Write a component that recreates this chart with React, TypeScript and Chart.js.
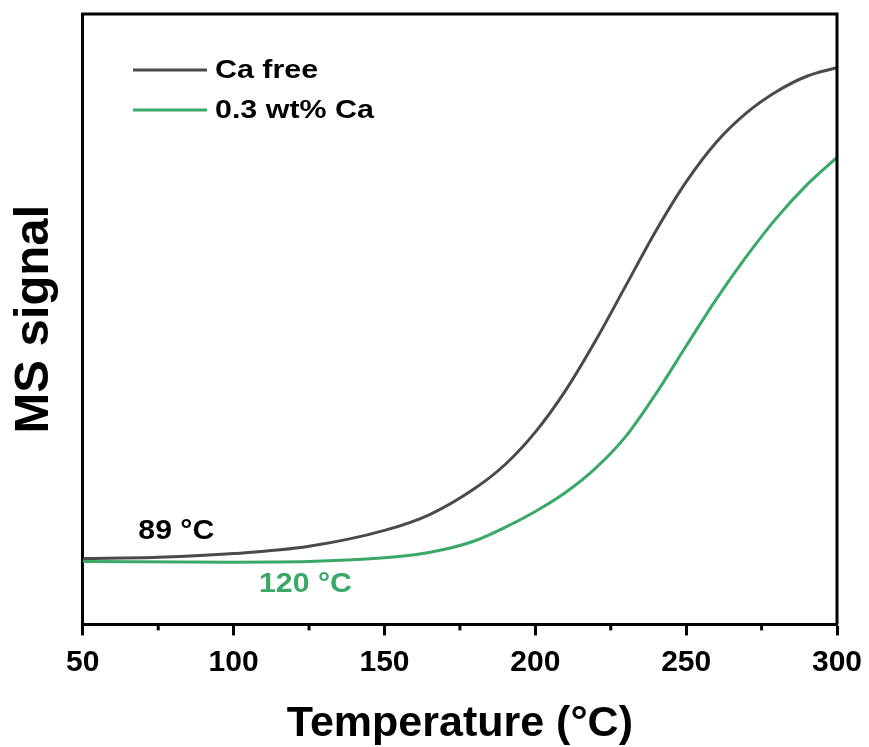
import React, { useEffect, useRef } from "react";
import { Chart, registerables } from "chart.js";

Chart.register(...registerables);

// Temperature (°C) and MS signal (a.u.) for the Ca-free sample
const caFreeTemp = [50, 75, 100, 125, 150, 165, 180, 190, 200, 210, 220, 230, 240, 250, 260, 270, 280, 290, 300];
const caFreeSignal = [10.8, 11.0, 11.6, 12.8, 15.4, 18.0, 22.3, 26.2, 31.5, 38.3, 46.5, 55.5, 64.5, 72.5, 79.0, 83.8, 87.3, 89.8, 91.2];

// Temperature (°C) and MS signal (a.u.) for the 0.3 wt% Ca sample
const caDopedTemp = [50, 100, 125, 150, 160, 170, 180, 190, 200, 210, 220, 230, 240, 250, 260, 270, 280, 290, 300];
const caDopedSignal = [10.3, 10.2, 10.3, 10.9, 11.4, 12.3, 13.7, 15.9, 18.5, 21.6, 25.6, 30.8, 37.8, 45.6, 53.3, 60.3, 66.6, 72.0, 76.5];

const seriesNames = ["Ca free", "0.3 wt% Ca"];
const seriesColors = ["#4a4a4a", "#3aa866"];
const xTicks = [50, 100, 150, 200, 250, 300];
const xMinorTicks = [75, 125, 175, 225, 275];

// onset labels
const onsetLabels = ["89 °C", "120 °C"];
const onsetColors = ["#000000", "#3aa866"];
const onsetAt = [
  { x: 81, y: 15.3 },
  { x: 123.8, y: 6.6 },
];

const FONT = '"Liberation Sans", Arial, Helvetica, sans-serif';

// draws text slightly widened horizontally
function wideText(ctx: CanvasRenderingContext2D, text: string, x: number, y: number, sx: number, align: "left" | "center") {
  ctx.save();
  ctx.translate(x, y);
  ctx.scale(sx, 1);
  ctx.textAlign = align;
  ctx.fillText(text, 0, 0);
  ctx.restore();
}

const framePlugin = {
  id: "frameAndNotes",
  afterDatasetsDraw(chart: any) {
    const { ctx, chartArea, scales } = chart;
    const { left, right, top, bottom } = chartArea;
    ctx.save();
    // top and right frame lines
    ctx.strokeStyle = "#000";
    ctx.lineWidth = 3;
    ctx.beginPath();
    ctx.moveTo(left - 1.5, top);
    ctx.lineTo(right, top);
    ctx.lineTo(right, bottom);
    ctx.stroke();

    // minor ticks on x axis
    for (const v of xMinorTicks) {
      const px = scales.x.getPixelForValue(v);
      ctx.beginPath();
      ctx.moveTo(px, bottom);
      ctx.lineTo(px, bottom + 6);
      ctx.stroke();
    }

    // legend inside the plot
    const legendY = [70, 110];
    seriesNames.forEach((name, i) => {
      ctx.strokeStyle = seriesColors[i];
      ctx.lineWidth = 3;
      ctx.beginPath();
      ctx.moveTo(133, legendY[i]);
      ctx.lineTo(207, legendY[i]);
      ctx.stroke();
      ctx.fillStyle = "#000";
      ctx.font = `bold 26px ${FONT}`;
      ctx.textBaseline = "middle";
      wideText(ctx, name, 215, legendY[i] + 1, 1.17, "left");
    });

    // onset temperature labels
    onsetLabels.forEach((t, i) => {
      ctx.fillStyle = onsetColors[i];
      ctx.font = `bold 28px ${FONT}`;
      ctx.textBaseline = "middle";
      wideText(ctx, t, scales.x.getPixelForValue(onsetAt[i].x), scales.y.getPixelForValue(onsetAt[i].y), 1.08, "center");
    });
    ctx.restore();
  },
};

export default function App() {
  const canvasRef = useRef<HTMLCanvasElement | null>(null);

  useEffect(() => {
    document.body.style.margin = "0";
    const canvas = canvasRef.current;
    if (!canvas) return;
    const chart = new Chart(canvas, {
      type: "line",
      data: {
        datasets: [
          {
            label: seriesNames[0],
            data: caFreeTemp.map((x, i) => ({ x, y: caFreeSignal[i] })),
            borderColor: seriesColors[0],
            borderWidth: 3,
            pointRadius: 0,
            cubicInterpolationMode: "monotone",
            fill: false,
          },
          {
            label: seriesNames[1],
            data: caDopedTemp.map((x, i) => ({ x, y: caDopedSignal[i] })),
            borderColor: seriesColors[1],
            borderWidth: 3,
            pointRadius: 0,
            cubicInterpolationMode: "monotone",
            fill: false,
          },
        ],
      },
      options: {
        responsive: false,
        animation: false,
        layout: { padding: { left: 5, right: 32, top: 14, bottom: 0 } },
        plugins: { legend: { display: false }, tooltip: { enabled: false } },
        scales: {
          x: {
            type: "linear",
            min: 50,
            max: 300,
            afterBuildTicks: (scale: any) => {
              scale.ticks = xTicks.map((v) => ({ value: v }));
            },
            afterFit: (scale: any) => {
              // the outer padding already leaves room for the last label
              scale.paddingRight = 0;
            },
            ticks: { color: "#000", font: { family: FONT, size: 30, weight: "bold" }, padding: 9 },
            grid: { display: true, drawOnChartArea: false, drawTicks: true, tickLength: 11, tickWidth: 3, tickColor: "#000" },
            border: { display: true, color: "#000", width: 3 },
            title: {
              display: true,
              text: "Temperature (°C)",
              color: "#000",
              font: { family: FONT, size: 43, weight: "bold" },
              padding: { top: 9, bottom: -3 },
            },
          },
          y: {
            min: 0,
            max: 100,
            ticks: { display: false },
            grid: { display: false, drawTicks: false },
            border: { display: true, color: "#000", width: 3 },
            title: {
              display: true,
              text: "MS signal",
              color: "#000",
              font: { family: FONT, size: 49, weight: "bold" },
              padding: { top: 0, bottom: 19 },
            },
          },
        },
      },
      plugins: [framePlugin],
    } as any);
    return () => chart.destroy();
  }, []);

  return (
    <div style={{ width: 869, height: 747, background: "#fff" }}>
      <canvas ref={canvasRef} width={869} height={747} style={{ width: 869, height: 747 }} />
    </div>
  );
}
